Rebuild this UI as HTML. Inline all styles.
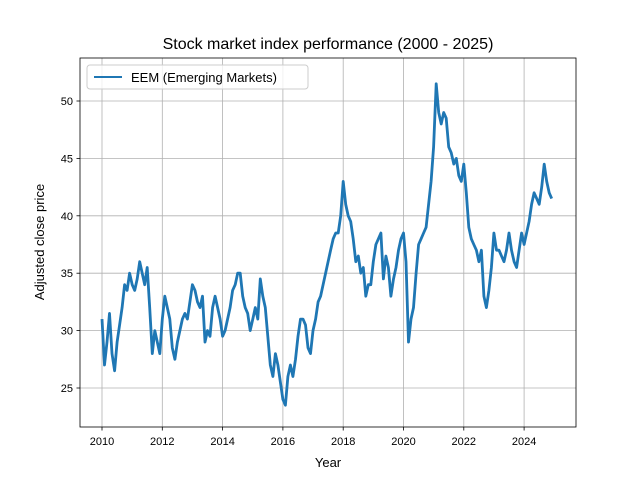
<!DOCTYPE html>
<html><head><meta charset="utf-8"><style>
body{margin:0;background:#fff;}
svg text{font-family:"Liberation Sans","DejaVu Sans",sans-serif;}
</style></head><body>
<svg id="chart" width="640" height="480">
<rect x="0" y="0" width="640" height="480" fill="#fff"/>
<g id="grid"></g>
<g id="ticks"></g>
<path id="line" fill="none" stroke="#1f77b4" stroke-width="2.8" stroke-linejoin="round"/>
<rect x="80" y="58" width="496" height="369" fill="none" stroke="#000" stroke-width="0.8"/>
<text x="328" y="49" font-size="16" text-anchor="middle">Stock market index performance (2000 - 2025)</text>
<text x="328" y="467" font-size="13" text-anchor="middle">Year</text>
<text transform="translate(44,242) rotate(-90)" font-size="13" text-anchor="middle">Adjusted close price</text>
<g>
<rect x="87" y="65" width="221" height="24" rx="3" fill="#fff" fill-opacity="0.8" stroke="#ccc"/>
<line x1="94" y1="77" x2="122" y2="77" stroke="#1f77b4" stroke-width="2"/>
<text x="131" y="82" font-size="13">EEM (Emerging Markets)</text>
</g>
</svg>
<script>
const xTicks=[2010,2012,2014,2016,2018,2020,2022,2024];
const yTicks=[25,30,35,40,45,50];
const startYear=2010;
const prices=[
31,27,29,31.5,28,26.5,29,30.5,32,34,33.5,35,
34,33.5,34.5,36,35,34,35.5,32,28,30,29,28,
31,33,32,31,28.5,27.5,29,30,31,31.5,31,32.5,
34,33.5,32.5,32,33,29,30,29.5,32,33,32,31,
29.5,30,31,32,33.5,34,35,35,33,32,31.5,30,
31,32,31,34.5,33,32,29.5,27,26,28,27,25.5,
24,23.5,26,27,26,27.5,29.5,31,31,30.5,28.5,28,
30,31,32.5,33,34,35,36,37,38,38.5,38.5,40,
43,41,40,39.5,38,36,36.5,35,35.5,33,34,34,
36,37.5,38,38.5,34.5,36.5,35.5,33,34.5,35.5,37,38,
38.5,36,29,31,32,35,37.5,38,38.5,39,41,43,
46,51.5,49,48,49,48.5,46,45.5,44.5,45,43.5,43,
44.5,42,39,38,37.5,37,36,37,33,32,33.5,35.5,
38.5,37,37,36.5,36,37,38.5,37,36,35.5,37,38.5,
37.5,38.5,39.5,41,42,41.5,41,42.5,44.5,43,42,41.5];
const X=y=>102+(y-2010)*30.15;
const Y=v=>388-(v-25)*11.48;
const ns="http://www.w3.org/2000/svg";
const grid=document.getElementById('grid'),ticks=document.getElementById('ticks');
function mk(tag,attrs,parent){const e=document.createElementNS(ns,tag);for(const k in attrs)e.setAttribute(k,attrs[k]);parent.appendChild(e);return e;}
xTicks.forEach(t=>{const x=X(t);
const g=mk('line',{x1:x,x2:x,y1:58,y2:427,stroke:'#b0b0b0','stroke-width':0.8},grid);


const tk=mk('line',{x1:x,x2:x,y1:427,y2:430.5,stroke:'#000','stroke-width':0.8},ticks);


const tx=mk('text',{x:x,y:445,'font-size':11,'text-anchor':'middle'},ticks);tx.textContent=t;

});
yTicks.forEach(t=>{const y=Y(t);
const g=mk('line',{x1:80,x2:576,y1:y,y2:y,stroke:'#b0b0b0','stroke-width':0.8},grid);


const tk=mk('line',{x1:76.5,x2:80,y1:y,y2:y,stroke:'#000','stroke-width':0.8},ticks);


const tx=mk('text',{x:73,y:y+4,'font-size':11,'text-anchor':'end'},ticks);tx.textContent=t;

});
let d='';prices.forEach((v,i)=>{d+=(i?'L':'M')+X(startYear+i/12).toFixed(1)+','+Y(v).toFixed(1);});
document.getElementById('line').setAttribute('d',d);
</script>
</body></html>
